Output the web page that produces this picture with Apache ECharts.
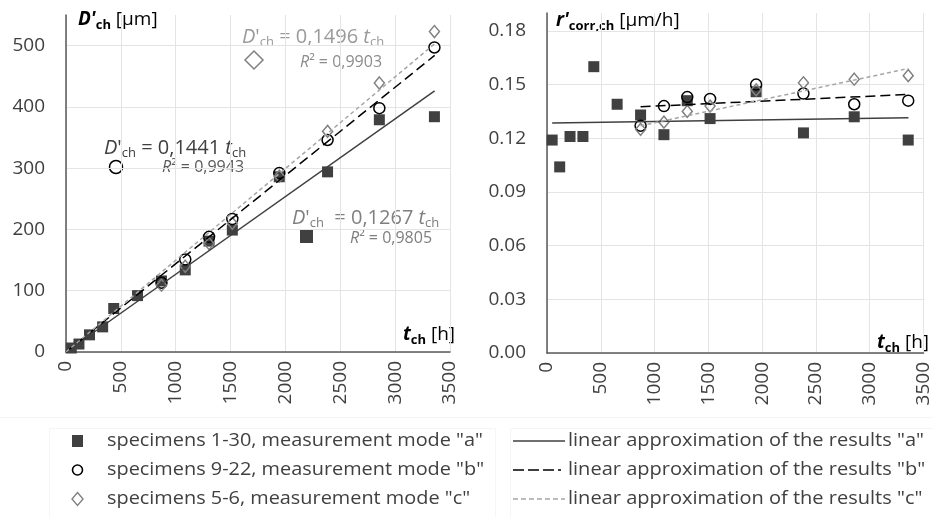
<!DOCTYPE html>
<html><head><meta charset="utf-8">
<script src="https://cdn.jsdelivr.net/npm/echarts@6/dist/echarts.min.js"></script>
<style>html,body{margin:0;padding:0;background:#fff}#c{width:933px;height:517px}</style>
</head><body><div id="c"></div>
<script>
// ---- data ----
const tA = [48, 118, 214, 334, 435, 652, 870, 1087, 1304, 1516, 1944, 2384, 2856, 3358];
const dA = [6.5, 13, 28, 41, 71, 92, 116, 134, 181, 199, 286, 294, 379, 384];
const rA = [0.119, 0.104, 0.121, 0.121, 0.160, 0.139, 0.133, 0.122, 0.141, 0.131, 0.146, 0.123, 0.132, 0.119];

const tBC = [870, 1087, 1304, 1516, 1944, 2384, 2856, 3358];
const dB = [113, 151, 188, 217, 292, 346, 398, 497];
const rB = [0.127, 0.138, 0.143, 0.142, 0.150, 0.145, 0.139, 0.141];
const dC = [109, 140, 177, 210, 287, 360, 439, 523];
const rC = [0.125, 0.129, 0.135, 0.138, 0.147, 0.151, 0.153, 0.155];

// trend line end points
const trendAL = [[0, 0], [3360, 426]];
const trendBL = [[0, 0], [3360, 484]];
const trendCL = [[0, 0], [3360, 503]];
const trendAR = [[48, 0.1285], [3360, 0.1315]];
const trendBR = [[870, 0.1376], [3360, 0.1445]];
const trendCR = [[870, 0.127], [3360, 0.159]];

const xTicks = [0, 500, 1000, 1500, 2000, 2500, 3000, 3500];
const yTicksL = [0, 100, 200, 300, 400, 500];
const yTicksR = [0.00, 0.03, 0.06, 0.09, 0.12, 0.15, 0.18];

const names = ['specimens 1-30, measurement mode "a"', 'specimens 9-22, measurement mode "b"', 'specimens 5-6, measurement mode "c"'];
const tnames = ['linear approximation of the results "a"', 'linear approximation of the results "b"', 'linear approximation of the results "c"'];

const zip = (xs, ys) => xs.map((x, i) => [x, ys[i]]);

// ---- styles ----
const FONT = "'Open Sans', sans-serif";
const axisCol = '#595959';
const gridCol = '#e4e4e4';
const labCol = '#404040';

function gridColors(n) { const a = []; for (let i = 0; i < n; i++) a.push(gridCol); a.push('rgba(0,0,0,0)'); return a; }

function xAxis(gi) {
  return {
    gridIndex: gi, type: 'value', min: xTicks[0], max: xTicks[xTicks.length - 1], interval: 500,
    axisLine: { show: true, onZero: false, lineStyle: { color: axisCol, width: 1.5 } },
    axisTick: { show: false },
    splitLine: { show: true, lineStyle: { color: gridCol, width: 1 } },
    axisLabel: { rotate: 90, fontSize: 19, color: labCol, fontFamily: FONT, margin: 9, formatter: v => String(v) }
  };
}
function yAxis(gi, ticks, max, interval, fmt) {
  return {
    gridIndex: gi, type: 'value', min: 0, max: max, interval: interval,
    axisLine: { show: true, lineStyle: { color: axisCol, width: 1.5 } },
    axisTick: { show: false },
    splitLine: { show: true, lineStyle: { color: gridColors(ticks.length), width: 1 } },
    axisLabel: { fontSize: 19, color: labCol, fontFamily: FONT, margin: 21, showMaxLabel: false, formatter: fmt }
  };
}

const sqStyle = { color: '#404040', opacity: 1 };
const ciStyle = { color: 'rgba(255,255,255,0)', borderColor: '#000', borderWidth: 1.5, opacity: 1 };
const diStyle = { color: 'rgba(255,255,255,0)', borderColor: '#808080', borderWidth: 1.5, opacity: 1 };
const lnA = { color: '#404040', width: 1.5, type: 'solid' };
const lnB = { color: '#000', width: 1.5, type: [10, 5] };
const lnC = { color: '#a6a6a6', width: 1.5, type: [4, 3] };

function sc(name, gi, data, symbol, size, style) {
  return { name, type: 'scatter', xAxisIndex: gi, yAxisIndex: gi, data, symbol, symbolSize: size, itemStyle: style, z: 3 };
}
function ln(name, gi, data, style) {
  return { name, type: 'line', xAxisIndex: gi, yAxisIndex: gi, data, symbol: 'none', showSymbol: false, lineStyle: style, itemStyle: { color: style.color }, z: 4 };
}

const sub = { fontSize: 13, verticalAlign: 'bottom', lineHeight: 12 };
function eqText(x, y, eq, col) {
  return {
    type: 'text', x, y,
    style: {
      text: '{i|D}{n|\'}{s|ch}{n|' + eq + '}{i|t}{s|ch}', fill: col, textVerticalAlign: 'middle',
      rich: {
        i: { fontStyle: 'italic', fontSize: 20, fontFamily: FONT, fill: col, lineHeight: 24 },
        n: { fontSize: 20, fontFamily: FONT, fill: col, lineHeight: 24 },
        s: Object.assign({ fontFamily: FONT, fill: col }, sub)
      }
    }
  };
}
function r2Text(x, y, val, col) {
  return {
    type: 'text', x, y,
    style: {
      text: '{i|R}{n|² = ' + val + '}', fill: col, textVerticalAlign: 'middle',
      rich: {
        i: { fontStyle: 'italic', fontSize: 16, fontFamily: FONT, fill: col },
        n: { fontSize: 16, fontFamily: FONT, fill: col }
      }
    }
  };
}
function title(x, y, a, s, n, align) {
  return {
    type: 'text', x, y,
    style: {
      text: '{b|' + a + '}{s|' + s + '}{n|' + n + '}', textVerticalAlign: 'middle', textAlign: align || 'left',
      rich: {
        b: { fontStyle: 'italic', fontWeight: 'bold', fontSize: 19, fontFamily: FONT, fill: '#000', lineHeight: 24 },
        s: { fontWeight: 'bold', fontSize: 13, fontFamily: FONT, fill: '#000', verticalAlign: 'bottom', lineHeight: 12 },
        n: { fontSize: 19, fontFamily: FONT, fill: '#000', lineHeight: 24 }
      }
    }
  };
}

// ---- legend (drawn as graphics, text fitted to the reference widths) ----
const LEG_FS = 19;
const mctx = document.createElement('canvas').getContext('2d');
function measure(text) { mctx.font = LEG_FS + "px 'Open Sans'"; return mctx.measureText(text).width; }
const leftScale = 376 / measure(names[0]);
const rightScale = 356 / measure(tnames[0]);
function legText(x, y, text, s) {
  return {
    type: 'text', x, y, scaleX: s,
    style: { text, fill: labCol, fontSize: LEG_FS, fontFamily: FONT, textVerticalAlign: 'middle' }
  };
}
const legRows = [441, 470, 499];
const mx = 77.5;
const faint = '#f5f5f5';
const legendGraphics = [
  { type: 'line', shape: { x1: 0, y1: 417.5, x2: 933, y2: 417.5 }, style: { stroke: faint, lineWidth: 1 } },
  { type: 'rect', shape: { x: 49.5, y: 428.5, width: 446, height: 100 }, style: { fill: 'none', stroke: faint, lineWidth: 1 } },
  { type: 'rect', shape: { x: 510.5, y: 428.5, width: 430, height: 100 }, style: { fill: 'none', stroke: faint, lineWidth: 1 } },
  { type: 'rect', shape: { x: mx - 5.5, y: legRows[0] - 6, width: 11, height: 12 }, style: { fill: '#404040' } },
  { type: 'circle', shape: { cx: mx, cy: legRows[1], r: 5 }, style: { fill: '#fff', stroke: '#000', lineWidth: 1.6 } },
  { type: 'polygon', shape: { points: [[mx, legRows[2] - 6.5], [mx + 5.5, legRows[2]], [mx, legRows[2] + 6.5], [mx - 5.5, legRows[2]]] }, style: { fill: '#fff', stroke: '#808080', lineWidth: 1.4 } },
  { type: 'line', shape: { x1: 513, y1: legRows[0], x2: 565, y2: legRows[0] }, style: { stroke: lnA.color, lineWidth: 1.5 } },
  { type: 'line', shape: { x1: 513, y1: legRows[1], x2: 565, y2: legRows[1] }, style: { stroke: lnB.color, lineWidth: 1.6, lineDash: [11, 4, 11, 4, 11, 4, 3, 4] } },
  { type: 'line', shape: { x1: 513, y1: legRows[2], x2: 565, y2: legRows[2] }, style: { stroke: lnC.color, lineWidth: 1.3, lineDash: [5, 3] } },
  legText(107, legRows[0], names[0], leftScale),
  legText(107, legRows[1], names[1], leftScale),
  legText(107, legRows[2], names[2], leftScale),
  legText(568, legRows[0], tnames[0], rightScale),
  legText(568, legRows[1], tnames[1], rightScale),
  legText(568, legRows[2], tnames[2], rightScale)
];

const option = {
  animation: false,
  backgroundColor: '#fff',
  grid: [
    { left: 66, top: 15, width: 384, height: 337 },
    { left: 547, top: 13, width: 378, height: 340 }
  ],
  xAxis: [xAxis(0), xAxis(1)],
  yAxis: [
    yAxis(0, yTicksL, 550, 100, v => String(v)),
    yAxis(1, yTicksR, 0.19, 0.03, v => v.toFixed(2))
  ],
  series: [
    sc(names[0], 0, zip(tA, dA), 'rect', 11, sqStyle),
    sc(names[1], 0, zip(tBC, dB), 'circle', 11, ciStyle),
    sc(names[2], 0, zip(tBC, dC), 'diamond', [10, 12], diStyle),
    ln(tnames[0], 0, trendAL, lnA),
    ln(tnames[1], 0, trendBL, lnB),
    ln(tnames[2], 0, trendCL, lnC),
    sc(names[0], 1, zip(tA, rA), 'rect', 11, sqStyle),
    sc(names[1], 1, zip(tBC, rB), 'circle', 11, ciStyle),
    sc(names[2], 1, zip(tBC, rC), 'diamond', [10, 12], diStyle),
    ln(tnames[0], 1, trendAR, lnA),
    ln(tnames[1], 1, trendBR, lnB),
    ln(tnames[2], 1, trendCR, lnC)
  ],
  graphic: [
    title(78, 20, 'D\'', 'ch', ' [μm]'),
    title(556, 21, 'r\'', 'corr,ch', ' [μm/h]'),
    title(455, 335, 't', 'ch', ' [h]', 'right'),
    title(929, 343, 't', 'ch', ' [h]', 'right'),
    eqText(242, 37, ' = 0,1496 ', '#9a9a9a'),
    r2Text(300, 62, '0,9903', '#8c8c8c'),
    eqText(104, 148, ' = 0,1441 ', '#404040'),
    r2Text(162, 167, '0,9943', '#595959'),
    eqText(292, 218, '  = 0,1267 ', '#7f7f7f'),
    r2Text(350, 238, '0,9805', '#7f7f7f'),
    { type: 'polygon', shape: { points: [[254, 51], [263, 60], [254, 69], [245, 60]] }, style: { fill: '#fff', stroke: '#808080', lineWidth: 1.5 } },
    { type: 'circle', shape: { cx: 116, cy: 167, r: 6.5 }, style: { fill: '#fff', stroke: '#000', lineWidth: 1.5 } },
    { type: 'rect', shape: { x: 300, y: 230, width: 13, height: 13 }, style: { fill: '#404040' } }
  ].concat(legendGraphics)
};

const chart = echarts.init(document.getElementById('c'), null, { renderer: 'canvas' });
chart.setOption(option);
</script>
</body></html>
